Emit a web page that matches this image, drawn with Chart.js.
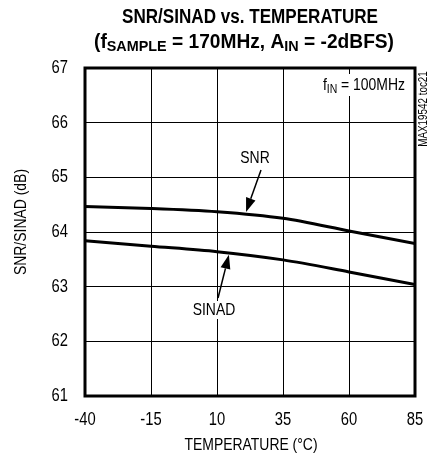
<!DOCTYPE html>
<html>
<head>
<meta charset="utf-8">
<script src="https://cdn.jsdelivr.net/npm/chart.js@4"></script>
<style>
  html, body { margin: 0; padding: 0; background: #fff; }
  #wrap { width: 433px; height: 460px; }
</style>
</head>
<body>
<div id="wrap"><canvas id="chart" width="433" height="460"></canvas></div>
<script>
var temps = [-40, -15, 10, 35, 60, 85];
var snr = [64.465, 64.43, 64.37, 64.25, 64.02, 63.79];
var sinad = [63.84, 63.74, 63.64, 63.49, 63.27, 63.04];
var xTicks = [-40, -15, 10, 35, 60, 85];
var yTicks = [61, 62, 63, 64, 65, 66, 67];

var FONT = "'Liberation Sans', Arial, sans-serif";
var NARROW = 0.82; // Helvetica Condensed look

// text with optional subscripts, parts = [[text, isSub], ...]
function drawRich(ctx, parts, x, y, size, opts) {
    opts = opts || {};
    var bold = opts.bold ? 'bold ' : '';
    var w = 0;
    parts.forEach(p => {
        ctx.font = bold + (p[1] ? size * 0.75 : size) + 'px ' + FONT;
        w += ctx.measureText(p[0]).width;
    });
    var sx = opts.width ? opts.width / w : NARROW;
    var align = opts.align || 'center';
    var left = align === 'center' ? x - w * sx / 2 : align === 'right' ? x - w * sx : x;
    ctx.save();
    ctx.translate(left, y);
    ctx.scale(sx, 1);
    ctx.textBaseline = 'middle';
    ctx.textAlign = 'left';
    var cx = 0;
    parts.forEach(p => {
        ctx.font = bold + (p[1] ? size * 0.75 : size) + 'px ' + FONT;
        ctx.fillText(p[0], cx, p[1] ? size * 0.25 : 0);
        cx += ctx.measureText(p[0]).width;
    });
    ctx.restore();
}

function text(ctx, s, x, y, size, align) {
    drawRich(ctx, [[s, false]], x, y, size, { align: align });
}

function arrow(ctx, x1, y1, x2, y2) {
    var a = Math.atan2(y2 - y1, x2 - x1);
    var len = 14, half = 5;
    var bx = x2 - len * Math.cos(a), by = y2 - len * Math.sin(a);
    ctx.beginPath();
    ctx.moveTo(x1, y1);
    ctx.lineTo(bx, by);
    ctx.lineWidth = 1.5;
    ctx.stroke();
    ctx.beginPath();
    ctx.moveTo(x2, y2);
    ctx.lineTo(bx + half * Math.sin(a), by - half * Math.cos(a));
    ctx.lineTo(bx - half * Math.sin(a), by + half * Math.cos(a));
    ctx.closePath();
    ctx.fill();
}

var decor = {
    id: 'decor',
    afterDraw: function (chart) {
        var ctx = chart.ctx;
        var a = chart.chartArea;
        var xs = chart.scales.x, ys = chart.scales.y;
        ctx.save();
        ctx.fillStyle = '#000';
        ctx.strokeStyle = '#000';

        // frame
        ctx.lineWidth = 3;
        ctx.strokeRect(a.left, a.top, a.right - a.left, a.bottom - a.top);

        // tick labels from the library's scales
        xs.ticks.forEach(t => text(ctx, String(t.value), xs.getPixelForValue(t.value), 420, 18, 'center'));
        ys.ticks.forEach(t => text(ctx, String(t.value), 68, ys.getPixelForValue(t.value), 18, 'right'));

        // title
        drawRich(ctx, [['SNR/SINAD vs. TEMPERATURE', false]], 250, 17, 20, { bold: true, width: 256 });
        drawRich(ctx, [['(f', false], ['SAMPLE', true], [' = 170MHz, A', false], ['IN', true], [' = -2dBFS)', false]], 244, 42, 20, { bold: true, width: 300 });

        // axis titles
        text(ctx, 'TEMPERATURE (\u00B0C)', 251, 445, 17, 'center');
        ctx.save();
        ctx.translate(21, 222);
        ctx.rotate(-Math.PI / 2);
        text(ctx, 'SNR/SINAD (dB)', 0, 0, 17, 'center');
        ctx.restore();

        // fIN label
        ctx.fillStyle = '#fff';
        ctx.fillRect(318, 74, 89, 22);
        ctx.fillStyle = '#000';
        drawRich(ctx, [['f', false], ['IN', true], [' = 100MHz', false]], 405, 85, 17, { align: 'right' });

        // tag
        ctx.save();
        ctx.translate(424, 109);
        ctx.rotate(-Math.PI / 2);
        text(ctx, 'MAX19542 toc21', 0, 0, 12, 'center');
        ctx.restore();

        // curve labels
        ctx.fillStyle = '#fff';
        ctx.fillRect(194, 301, 42, 18);
        ctx.fillStyle = '#000';
        text(ctx, 'SNR', 255, 158, 17, 'center');
        text(ctx, 'SINAD', 214, 310, 17, 'center');
        arrow(ctx, 261, 170, xs.getPixelForValue(21), ys.getPixelForValue(64.33) - 2);
        arrow(ctx, 218, 298, xs.getPixelForValue(14.5), ys.getPixelForValue(63.62) + 2);

        ctx.restore();
    }
};

new Chart(document.getElementById('chart'), {
    type: 'line',
    data: {
        datasets: [
            { label: 'SNR', data: temps.map((x, i) => ({ x: x, y: snr[i] })) },
            { label: 'SINAD', data: temps.map((x, i) => ({ x: x, y: sinad[i] })) }
        ]
    },
    options: {
        responsive: false,
        animation: false,
        layout: { padding: { top: 68, right: 18, left: 0, bottom: 0 } },
        elements: {
            line: { borderColor: '#000', borderWidth: 3, tension: 0.3 },
            point: { radius: 0 }
        },
        plugins: { legend: { display: false }, tooltip: { enabled: false } },
        scales: {
            x: {
                type: 'linear',
                min: -40, max: 85,
                afterFit: s => { s.height = 64; },
                afterBuildTicks: s => { s.ticks = xTicks.map(v => ({ value: v })); },
                grid: { color: '#000', lineWidth: 1, drawTicks: false },
                border: { display: false },
                ticks: { display: false }
            },
            y: {
                min: 61, max: 67,
                afterFit: s => { s.width = 85; },
                afterBuildTicks: s => { s.ticks = yTicks.map(v => ({ value: v })); },
                grid: { color: '#000', lineWidth: 1, drawTicks: false },
                border: { display: false },
                ticks: { display: false }
            }
        }
    },
    plugins: [decor]
});
</script>
</body>
</html>
